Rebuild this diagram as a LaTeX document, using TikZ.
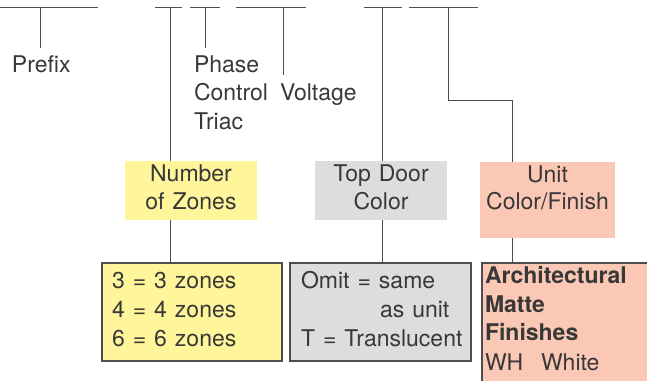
\documentclass[tikz,border=0pt]{standalone}
\usepackage{fontspec}
\setmainfont[WordSpace=1.25]{TeX Gyre Heros}
\definecolor{zoneyellow}{HTML}{FFF59B}
\definecolor{doorgray}{HTML}{DCDDDF}
\definecolor{finishsalmon}{HTML}{FAC8B4}
\definecolor{inkgray}{HTML}{383838}
\definecolor{linegray}{HTML}{4D4D4D}
\begin{document}
\begin{tikzpicture}[x=1pt,y=-1pt,
  every node/.style={inner sep=0pt, outer sep=0pt, text=inkgray, font=\fontsize{23}{29}\selectfont},
  lbl/.style={anchor=base west},
  lblc/.style={anchor=base},
  boldlbl/.style={anchor=base west, font=\fontsize{23}{29}\selectfont\bfseries},
  headbox/.style={rectangle, draw=none},
  listbox/.style={rectangle, draw=linegray, line width=1.1pt},
  conn/.style={draw=linegray, line width=1pt},
]
\useasboundingbox (0,0) rectangle (647,380);
\clip (0,0) rectangle (647,380);

% top bar segments
\coordinate (s1a) at (0,7.3);   \coordinate (s1b) at (98,7.3);
\coordinate (s2a) at (155,7.3); \coordinate (s2b) at (182,7.3);
\coordinate (s3a) at (190,7.3); \coordinate (s3b) at (220,7.3);
\coordinate (s4a) at (236,7.3); \coordinate (s4b) at (306,7.3);
\coordinate (s5a) at (364,7.3); \coordinate (s5b) at (402,7.3);
\coordinate (s6a) at (409,7.3); \coordinate (s6b) at (478,7.3);
\draw[conn] (s1a) -- (s1b);
\draw[conn] (s2a) -- (s2b);
\draw[conn] (s3a) -- (s3b);
\draw[conn] (s4a) -- (s4b);
\draw[conn] (s5a) -- (s5b);
\draw[conn] (s6a) -- (s6b);

% drop points on the bar
\coordinate (dPrefix) at (40,7.3);
\coordinate (dZones) at (170.5,7.3);
\coordinate (dPhase) at (205,7.3);
\coordinate (dVolt) at (283,7.3);
\coordinate (dDoor) at (382,7.3);
\coordinate (dUnit) at (448,7.3);
\coordinate (ePrefix) at (40,48);
\coordinate (ePhase) at (205,48);
\coordinate (eVolt) at (283,75);
\coordinate (kUnit) at (448,100);
\coordinate (kUnit2) at (512,100);

% header boxes
\node[headbox, fill=zoneyellow, minimum width=132pt, minimum height=59pt] (nz) at (191,190.5) {};
\node[headbox, fill=doorgray, minimum width=132pt, minimum height=59pt] (td) at (381,190.5) {};
\node[headbox, fill=finishsalmon, minimum width=135pt, minimum height=76pt] (uc) at (547.5,200) {};

% list boxes
\node[listbox, fill=zoneyellow, minimum width=180pt, minimum height=98pt] (zl) at (192,312) {};
\node[listbox, fill=doorgray, minimum width=181pt, minimum height=98pt] (dl) at (380.5,312) {};
\node[listbox, fill=finishsalmon, minimum width=180pt, minimum height=130pt] (fl) at (572,328) {};

% connectors
\draw[conn] (dPrefix) -- (ePrefix);
\draw[conn] (dPhase) -- (ePhase);
\draw[conn] (dVolt) -- (eVolt);
\draw[conn] (dZones) -- (dZones |- nz.north);
\draw[conn] (dZones |- nz.south) -- (dZones |- zl.north);
\draw[conn] (dDoor) -- (dDoor |- td.north);
\draw[conn] (dDoor |- td.south) -- (dDoor |- dl.north);
\draw[conn] (dUnit) -- (kUnit) -- (kUnit2) -- (kUnit2 |- uc.north);
\draw[conn] (kUnit2 |- uc.south) -- (kUnit2 |- fl.north);

% top labels
\node[lbl] (prefix) at (12,72) {Prefix};
\node[lbl] (phase1) at (194,72) {Phase};
\node[lbl] (phase2) at (194,100.5) {Control};
\node[lbl] (phase3) at (194,129) {Triac};
\node[lbl] (voltage) at (280,100.5) {Voltage};

% header texts
\node[lblc] (nzt1) at (191,181.5) {Number};
\node[lblc] (nzt2) at (191,209) {of Zones};
\node[lblc] (tdt1) at (381,181.5) {Top Door};
\node[lblc] (tdt2) at (381,209) {Color};
\node[lblc] (uct1) at (547.5,182) {Unit};
\node[lblc] (uct2) at (547.5,209.5) {Color/Finish};

% list texts
\node[lbl] (z3) at (112,288) {3 = 3 zones};
\node[lbl] (z4) at (112,317) {4 = 4 zones};
\node[lbl] (z6) at (112,346) {6 = 6 zones};
\node[lbl] (om1) at (301,288) {Omit = same};
\node[lbl] (om2) at (380,317) {as unit};
\node[lbl] (om3) at (301,346) {T = Translucent};
\node[boldlbl] (f1) at (485,283) {Architectural};
\node[boldlbl] (f2) at (485,312) {Matte};
\node[boldlbl] (f3) at (485,340) {Finishes};
\node[lbl] (wh) at (485,370) {WH};
\node[lbl] (white) at (541,370) {White};
\end{tikzpicture}
\end{document}
